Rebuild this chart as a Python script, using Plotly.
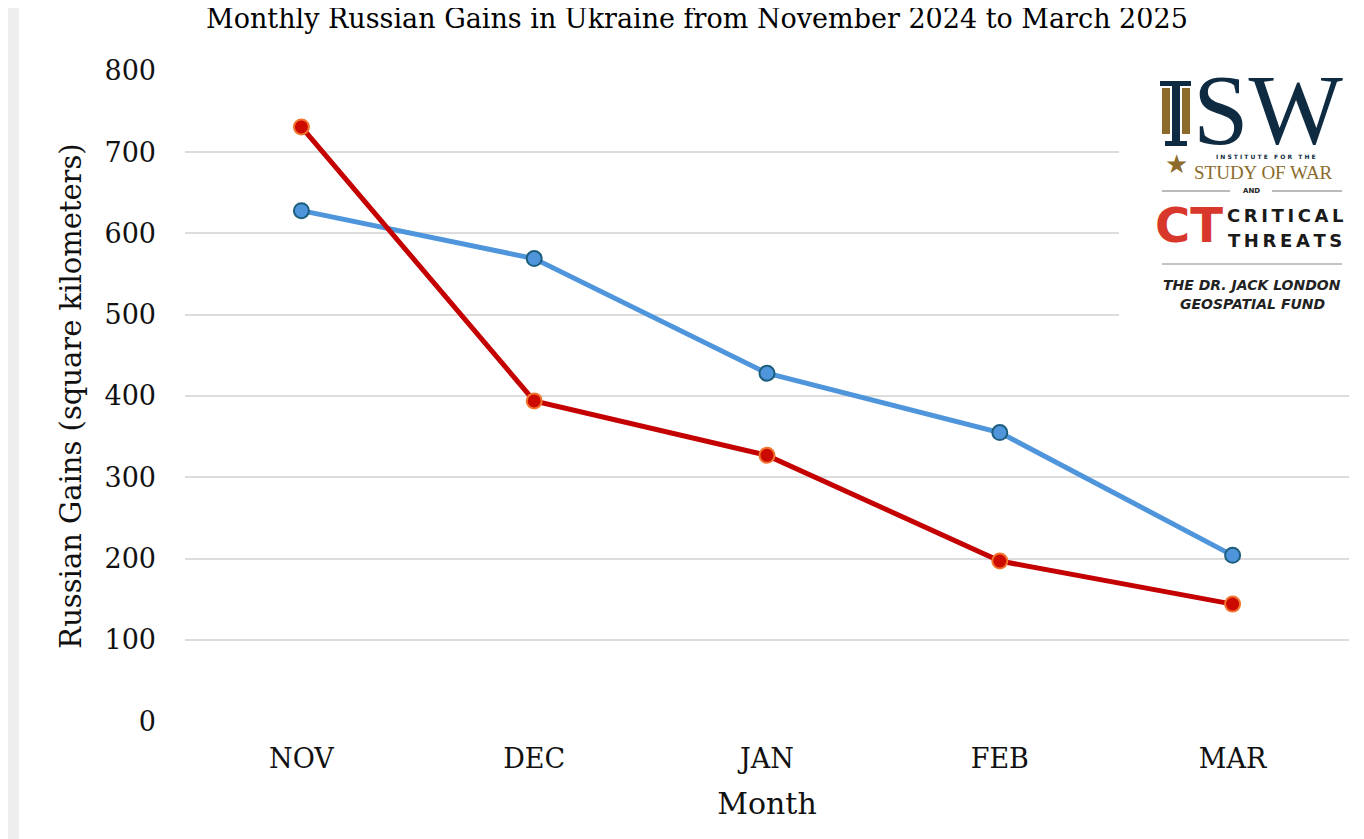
import plotly.graph_objects as go

months = ["NOV", "DEC", "JAN", "FEB", "MAR"]
series_blue = [628, 569, 428, 355, 204]
series_red = [731, 394, 327, 197, 144]
y_ticks = [0, 100, 200, 300, 400, 500, 600, 700, 800]

# page body adds an 8px offset in the screenshot
OFF = 8
W, H = 1364 - OFF, 839 - OFF
L, R, T, B = 177, 15, 62, 117
PW = W - L - R
PH = H - T - B

def px(xs):
    return (xs - OFF - L) / PW

def py(ys):
    return (T + PH - (ys - OFF)) / PH

SERIF = "Georgia, DejaVu Serif, serif"
SANS = "DejaVu Sans, Liberation Sans, sans-serif"
TS = "\u2009"
NAVY = "#0e2b42"
GOLD = "#8c6b2b"

fig = go.Figure()
fig.add_trace(go.Scatter(
    x=months, y=series_blue, mode="lines+markers",
    line=dict(color="#4f95db", width=5),
    marker=dict(size=15, color="#4f95db", line=dict(color="#1d5e7e", width=2)),
    showlegend=False, hoverinfo="x+y"))
fig.add_trace(go.Scatter(
    x=months, y=series_red, mode="lines+markers",
    line=dict(color="#c40000", width=5),
    marker=dict(size=15, color="#cc0a00", line=dict(color="#f2742e", width=2)),
    showlegend=False, hoverinfo="x+y"))

shapes = []
def rect(x0, x1, y0, y1, color, layer="above"):
    shapes.append(dict(type="rect", xref="paper", yref="paper",
                       x0=px(x0), x1=px(x1), y0=py(y1), y1=py(y0),
                       fillcolor=color, line=dict(width=0), layer=layer))

def hline(x0, x1, y, color):
    shapes.append(dict(type="line", xref="paper", yref="paper",
                       x0=px(x0), x1=px(x1), y0=py(y), y1=py(y),
                       line=dict(color=color, width=1), layer="above"))

# left textured strip
rect(-5, 19, -5, 850, "#eeeeee", layer="below")
# white box behind logo
rect(1119, 1370, 60, 322, "white")
# the "I" of ISW with its gold flanks
rect(1160, 1191, 81, 86, NAVY)
rect(1172, 1180, 81, 146, NAVY)
rect(1165, 1187, 141, 146, NAVY)
rect(1162, 1170, 88, 134, GOLD)
rect(1182, 1190, 88, 134, GOLD)
# lines around AND and under CT
hline(1162, 1230, 191, "#777777")
hline(1272, 1342, 191, "#777777")
hline(1162, 1342, 264, "#888888")

annotations = []
def ann(text, x, y, size, color="black", family=SERIF, xanchor="center", yanchor="middle"):
    annotations.append(dict(text=text, x=px(x), y=py(y), xref="paper", yref="paper",
                            showarrow=False, xanchor=xanchor, yanchor=yanchor,
                            font=dict(size=size, color=color, family=family)))

ann("Monthly Russian Gains in Ukraine from November 2024 to March 2025", 697, 19, 27)
ann("SW", 1268, 110, 100, color=NAVY, family="Liberation Serif, serif")
ann("★", 1176, 164, 26, color=GOLD, family="DejaVu Sans")
ann("<b>" + "I N S T I T U T E   F O R   T H E" + "</b>", 1266, 156, 6, color=NAVY, family=SANS)
ann("STUDY OF WAR", 1263, 172, 19, color=GOLD, family="Liberation Serif, serif")
ann("<b>AND</b>", 1251, 191, 7, color="#222222", family=SANS)
ann("<b>CT</b>", 1189, 225, 48, color="#d8382c", family="DejaVu Sans")
ann("<b>" + TS.join("CRITICAL") + "</b>", 1285, 215, 18, color="#1a1a1a", family=SANS)
ann("<b>" + TS.join("THREATS") + "</b>", 1285, 240, 18, color="#1a1a1a", family=SANS)
ann("<b><i>THE DR. JACK LONDON</i></b>", 1252, 285, 14, color="#222222", family=SANS)
ann("<b><i>GEOSPATIAL FUND</i></b>", 1252, 304, 14, color="#222222", family=SANS)

fig.update_layout(
    width=W, height=H,
    margin=dict(l=L, r=R, t=T, b=B),
    paper_bgcolor="white", plot_bgcolor="white",
    font=dict(family=SERIF, color="#111111"),
    shapes=shapes, annotations=annotations,
    xaxis=dict(type="category", categoryorder="array", categoryarray=months,
               range=[-0.5, 4.5], showgrid=False, zeroline=False, showline=False,
               ticks="", tickfont=dict(size=27, family=SERIF, color="#111111"),
               ticklabelstandoff=18,
               title=dict(text="Month", font=dict(size=30, family=SERIF, color="#111111"),
                          standoff=19)),
    yaxis=dict(range=[-1, 801], tickvals=y_ticks, ticktext=[str(v) for v in y_ticks],
               showgrid=True, gridcolor="#dcdcdc", gridwidth=2, zeroline=False,
               showline=False, ticks="",
               tickfont=dict(size=27, family=SERIF, color="#111111"),
               ticklabelstandoff=28,
               title=dict(text="Russian Gains (square kilometers)",
                          font=dict(size=29, family=SERIF, color="#111111"),
                          standoff=14)),
)

fig.write_html("out.html")
